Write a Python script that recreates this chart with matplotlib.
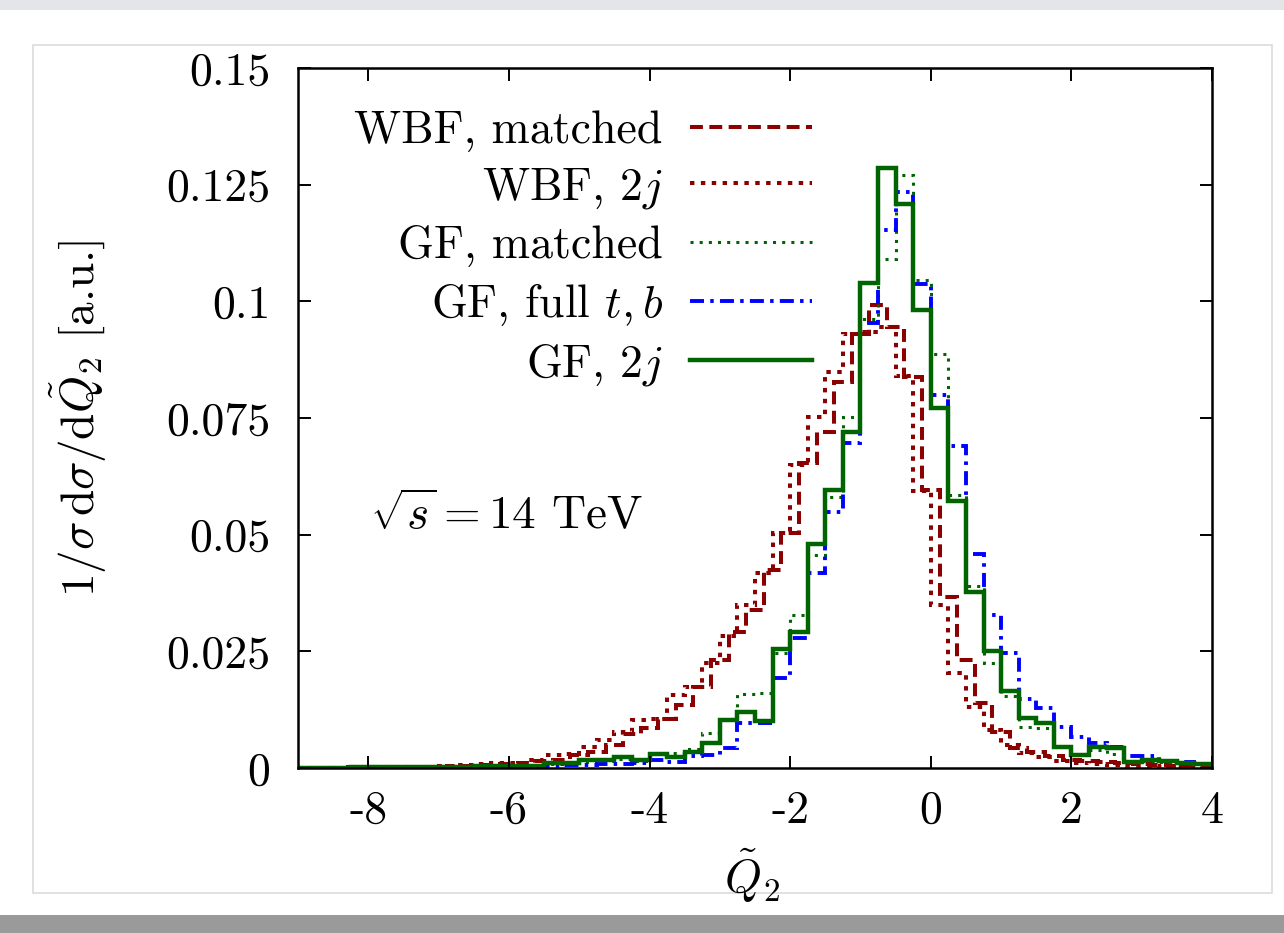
import numpy as np
import matplotlib
matplotlib.use("Agg")
import matplotlib.pyplot as plt
from matplotlib.patches import Rectangle

plt.rcParams["font.family"] = "serif"
plt.rcParams["font.serif"] = ["cmr10"]
plt.rcParams["mathtext.fontset"] = "cm"
plt.rcParams["axes.unicode_minus"] = False

# binning: 0.25 wide bins; the WBF matched histogram sits on a half-bin shifted grid
EDGES = np.arange(-9.0, 4.0 + 1e-9, 0.25)
EDGES_SHIFTED = np.arange(-9.125, 4.125 + 1e-9, 0.25)

# normalised distributions, one value per bin
WBF_MATCHED = [
    0.0001, 0.0001, 0.0001, 0.0002, 0.0002, 0.0002, 0.0002, 0.0003,
    0.0003, 0.0004, 0.0005, 0.0006, 0.0008, 0.0010, 0.0014, 0.0017,
    0.0028, 0.0035, 0.0049, 0.0073, 0.0086, 0.0106, 0.0135, 0.0174,
    0.0231, 0.0292, 0.0339, 0.0424, 0.0503, 0.0653, 0.0721, 0.0828,
    0.0931, 0.0992, 0.0946, 0.0838, 0.0596, 0.0367, 0.0231, 0.0139,
    0.0078, 0.0043, 0.0035, 0.0025, 0.0018, 0.0015, 0.0012, 0.0010,
    0.0008, 0.0006, 0.0005, 0.0004, 0.0003,
]
WBF_2J = [
    0.0001, 0.0001, 0.0001, 0.0002, 0.0002, 0.0003, 0.0003, 0.0003,
    0.0004, 0.0006, 0.0008, 0.0010, 0.0010, 0.0017, 0.0028, 0.0031,
    0.0046, 0.0060, 0.0078, 0.0103, 0.0106, 0.0156, 0.0174, 0.0224,
    0.0283, 0.0349, 0.0418, 0.0503, 0.0649, 0.0753, 0.0849, 0.0931,
    0.0935, 0.0945, 0.0839, 0.0594, 0.0349, 0.0203, 0.0131, 0.0081,
    0.0049, 0.0032, 0.0023, 0.0015, 0.0010, 0.0008, 0.0006, 0.0005,
    0.0004, 0.0003, 0.0002, 0.0002,
]
GF_MATCHED = [
    0.0001, 0.0001, 0.0001, 0.0002, 0.0002, 0.0002, 0.0002, 0.0003,
    0.0003, 0.0003, 0.0004, 0.0004, 0.0004, 0.0005, 0.0008, 0.0010,
    0.0012, 0.0015, 0.0019, 0.0015, 0.0032, 0.0032, 0.0040, 0.0074,
    0.0105, 0.0159, 0.0160, 0.0246, 0.0328, 0.0456, 0.0580, 0.0753,
    0.0963, 0.1090, 0.1270, 0.1046, 0.0887, 0.0585, 0.0389, 0.0225,
    0.0155, 0.0088, 0.0085, 0.0045, 0.0030, 0.0038, 0.0030, 0.0015,
    0.0015, 0.0012, 0.0010, 0.0008,
]
GF_FULL_TB = [
    0.0001, 0.0001, 0.0001, 0.0001, 0.0002, 0.0002, 0.0002, 0.0002,
    0.0002, 0.0003, 0.0003, 0.0003, 0.0002, 0.0003, 0.0005, 0.0006,
    0.0006, 0.0008, 0.0009, 0.0010, 0.0017, 0.0012, 0.0025, 0.0027,
    0.0043, 0.0096, 0.0096, 0.0192, 0.0278, 0.0417, 0.0549, 0.0696,
    0.0953, 0.1153, 0.1235, 0.1038, 0.0800, 0.0690, 0.0459, 0.0328,
    0.0246, 0.0147, 0.0129, 0.0088, 0.0067, 0.0053, 0.0045, 0.0026,
    0.0025, 0.0015, 0.0012, 0.0008,
]
GF_2J = [
    0.0001, 0.0001, 0.0001, 0.0002, 0.0002, 0.0002, 0.0002, 0.0003,
    0.0003, 0.0003, 0.0004, 0.0004, 0.0004, 0.0004, 0.0011, 0.0011,
    0.0017, 0.0017, 0.0024, 0.0017, 0.0030, 0.0023, 0.0035, 0.0053,
    0.0103, 0.0119, 0.0101, 0.0254, 0.0292, 0.0480, 0.0596, 0.0719,
    0.1040, 0.1285, 0.1208, 0.0981, 0.0771, 0.0573, 0.0378, 0.0251,
    0.0166, 0.0108, 0.0097, 0.0044, 0.0028, 0.0044, 0.0042, 0.0012,
    0.0017, 0.0015, 0.0011, 0.0008,
]

X_TICKS = [-8, -6, -4, -2, 0, 2, 4]
X_TICK_LABELS = ["-8", "-6", "-4", "-2", "0", "2", "4"]
Y_TICKS = [0, 0.025, 0.05, 0.075, 0.1, 0.125, 0.15]
Y_TICK_LABELS = ["0", "0.025", "0.05", "0.075", "0.1", "0.125", "0.15"]

DARK_RED = "#8b0000"
DARK_GREEN = "#006400"
BLUE = "#0000ff"
FS = 33

W, H = 1284, 933
fig = plt.figure(figsize=(W / 100, H / 100), dpi=100)

# page frame around the plot
fig.patches.append(Rectangle((0, 1 - 10 / H), 1, 10 / H, transform=fig.transFigure,
                             facecolor="#e3e5e9", edgecolor="none", zorder=-5))
fig.patches.append(Rectangle((0, 0), 1, 18 / H, transform=fig.transFigure,
                             facecolor="#9a9a9a", edgecolor="none", zorder=-5))
fig.patches.append(Rectangle((33 / W, 1 - 893 / H), (1272 - 33) / W, (893 - 45) / H,
                             transform=fig.transFigure, facecolor="white",
                             edgecolor="#dcdcdc", lw=1.2, zorder=-4))

ax = fig.add_axes([298 / W, 1 - 768 / H, (1212 - 298) / W, (768 - 68) / H])

ax.stairs(WBF_MATCHED, EDGES_SHIFTED, color=DARK_RED, lw=2.9,
          linestyle=(0, (3.2, 1.6)), label="WBF, matched")
ax.stairs(WBF_2J, EDGES, color=DARK_RED, lw=2.9,
          linestyle=(0, (1.1, 1.6)), label=r"WBF, $2j$")
ax.stairs(GF_MATCHED, EDGES, color=DARK_GREEN, lw=2.2,
          linestyle=(0, (1.0, 2.0)), label="GF, matched")
ax.stairs(GF_FULL_TB, EDGES, color=BLUE, lw=2.8,
          linestyle=(0, (3.6, 1.6, 0.9, 1.6)), label=r"GF, full $t,b$")
ax.stairs(GF_2J, EDGES, color=DARK_GREEN, lw=3.2, label=r"GF, $2j$")

ax.set_xlim(-9, 4)
ax.set_ylim(0, 0.15)
ax.set_xticks(X_TICKS)
ax.set_xticklabels(X_TICK_LABELS)
ax.set_yticks(Y_TICKS)
ax.set_yticklabels(Y_TICK_LABELS)
ax.tick_params(direction="in", length=9, width=1.4, top=True, right=True,
               labelsize=FS)
ax.tick_params(axis="x", pad=16)
ax.tick_params(axis="y", pad=20)
for spine in ax.spines.values():
    spine.set_linewidth(1.8)

ax.text(0.079, 0.36, r"$\sqrt{s} = 14$ TeV", transform=ax.transAxes,
        fontsize=FS + 1, ha="left", va="center")

ax.legend(loc="upper right", bbox_to_anchor=(0.562, 0.94), frameon=False,
          markerfirst=False, fontsize=FS, handlelength=2.65, handletextpad=0.6,
          labelspacing=0.31, borderpad=0, borderaxespad=0)

fig.text(78 / W, 1 - 418 / H,
         r"$1/\sigma\,\mathrm{d}\sigma/\mathrm{d}\tilde{Q}_2$ [a.u.]",
         rotation=90, fontsize=FS + 1, ha="center", va="center")
fig.text(752 / W, 1 - 876 / H, r"$\tilde{Q}_2$", fontsize=FS + 1,
         ha="center", va="center")

fig.savefig("out.png", dpi=100)
